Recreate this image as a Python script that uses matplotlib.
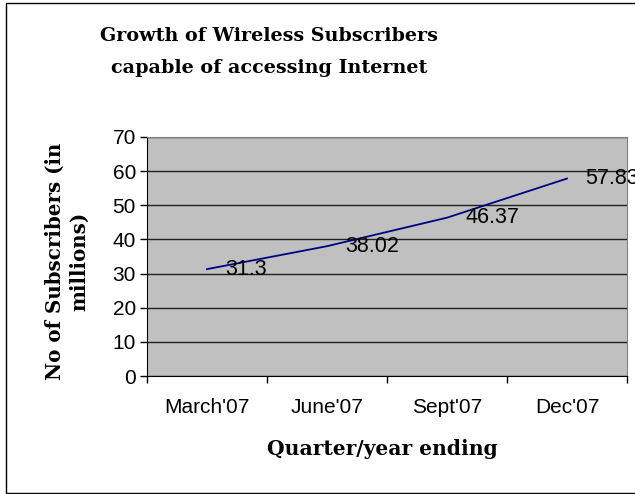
import matplotlib
matplotlib.use("Agg")
import matplotlib.pyplot as plt
from matplotlib.patches import Rectangle

# Wireless subscribers able to access the internet, by quarter (millions)
quarters = ["March'07", "June'07", "Sept'07", "Dec'07"]
subscribers = [31.3, 38.02, 46.37, 57.83]
y_ticks = [0, 10, 20, 30, 40, 50, 60, 70]

W, H, DPI = 635, 494, 100
fig = plt.figure(figsize=(W / DPI, H / DPI), dpi=DPI)

# plot area in pixel terms: left 147, right 627, top 137, bottom 376
ax = fig.add_axes([147 / W, 1 - 376 / H, (627 - 147) / W, (376 - 137) / H])
ax.set_facecolor("#C0C0C0")

x = list(range(len(quarters)))
ax.plot(x, subscribers, color="#000080", lw=1.3, zorder=3)
for xi, v in zip(x, subscribers):
    ax.annotate(f"{v:g}", (xi, v), xytext=(13, 0), textcoords="offset points",
                va="center", ha="left", fontsize=15.5, family="Liberation Sans",
                annotation_clip=False, zorder=4)

ax.set_xlim(-0.5, len(quarters) - 0.5)
ax.set_ylim(0, 70)
ax.set_yticks(y_ticks)
ax.yaxis.grid(True, color="#202020", lw=1.0)
ax.set_axisbelow(True)

# category ticks sit on the boundaries, labels in between
ax.set_xticks([i - 0.5 for i in range(len(quarters) + 1)])
ax.set_xticklabels([])
ax.set_xticks(x, minor=True)
ax.set_xticklabels(quarters, minor=True)
ax.tick_params(axis="x", which="minor", length=0, pad=16)
ax.tick_params(axis="x", which="major", direction="out", length=5, width=1)
ax.tick_params(axis="y", direction="out", length=5, width=1, pad=3)
for lab in ax.get_xticklabels(minor=True) + ax.get_yticklabels():
    lab.set_fontfamily("Liberation Sans")
    lab.set_fontsize(15)

for side in ("top", "right"):
    ax.spines[side].set_color("#808080")
for side in ("left", "bottom"):
    ax.spines[side].set_color("black")

serif_bold = dict(family="DejaVu Serif", fontweight="heavy", color="black")
fig.text(269 / W, 1 - 52 / H, "Growth of Wireless Subscribers\ncapable of accessing Internet",
         ha="center", va="center", fontsize=13.8, linespacing=2.05, **serif_bold)
fig.text(382 / W, 1 - 449 / H, "Quarter/year ending",
         ha="center", va="center", fontsize=14.6, **serif_bold)
fig.text(67 / W, 1 - 261 / H, "No of Subscribers (in\nmillions)",
         ha="center", va="center", rotation=90, fontsize=14.3, linespacing=1.25,
         **serif_bold)

# chart border
fig.patches.append(Rectangle((6 / W, 1 / H), 1.2, 1 - 4 / H, transform=fig.transFigure,
                             fill=False, edgecolor="black", lw=1.0))

fig.savefig("out.png", dpi=DPI)
